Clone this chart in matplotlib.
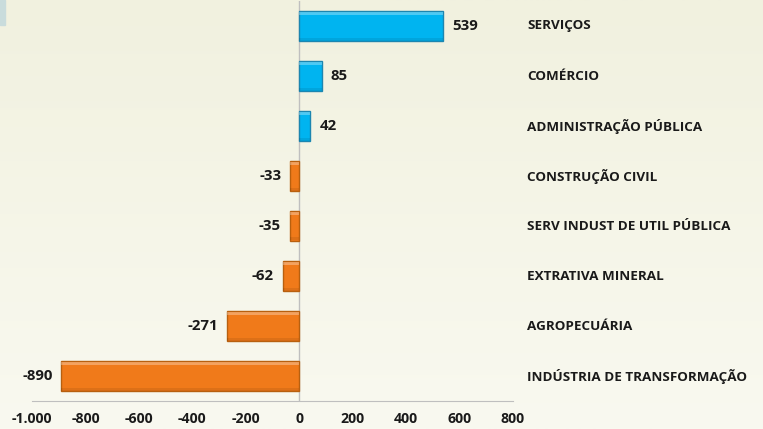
import numpy as np
import matplotlib
matplotlib.use("Agg")
import matplotlib.pyplot as plt
from matplotlib.patches import Rectangle

# dados (saldo de empregos por setor)
setores = ["SERVIÇOS", "COMÉRCIO", "ADMINISTRAÇÃO PÚBLICA", "CONSTRUÇÃO CIVIL",
           "SERV INDUST DE UTIL PÚBLICA", "EXTRATIVA MINERAL", "AGROPECUÁRIA",
           "INDÚSTRIA DE TRANSFORMAÇÃO"]
saldo = [539, 85, 42, -33, -35, -62, -271, -890]
xticks = [-1000, -800, -600, -400, -200, 0, 200, 400, 600, 800]
xtick_labels = ["-1.000", "-800", "-600", "-400", "-200", "0", "200", "400", "600", "800"]

plt.rcParams['font.family'] = ['Open Sans', 'DejaVu Sans']
W, H = 763, 429
fig = plt.figure(figsize=(W / 100, H / 100), dpi=100)

# fundo em degrade
bg = fig.add_axes([0, 0, 1, 1], zorder=-10)
grad = np.linspace(0, 1, 256).reshape(-1, 1)
c_top = np.array([0xF1, 0xF1, 0xDF]) / 255
c_bot = np.array([0xF9, 0xF9, 0xF0]) / 255
img = c_top[None, None, :] * (1 - grad[:, :, None]) + c_bot[None, None, :] * grad[:, :, None]
bg.imshow(img, aspect='auto', extent=[0, 1, 0, 1])
bg.axis('off')
fig.patches.append(Rectangle((0, 1 - 25 / H), 5 / W, 25 / H, transform=fig.transFigure,
                             color='#C9DCDC', zorder=5))

ax = fig.add_axes([32 / W, (H - 401) / H, 481 / W, 400 / H])
ax.patch.set_alpha(0)

y = np.arange(len(setores))
cores = ['#00B4F0' if v > 0 else '#F07A1A' for v in saldo]
bordas = ['#1C86B0' if v > 0 else '#B8600F' for v in saldo]
ax.barh(y, saldo, height=0.6, color=cores, edgecolor=bordas, linewidth=1.0, zorder=3)
# efeito chanfrado discreto
ax.barh(y - 0.26, saldo, height=0.06, color='white', alpha=0.3, linewidth=0, zorder=4)
ax.barh(y + 0.26, saldo, height=0.06, color='black', alpha=0.08, linewidth=0, zorder=4)

for yi, v in zip(y, saldo):
    if v > 0:
        ax.text(v + 33, yi, str(v), ha='left', va='center', fontsize=10.8, fontweight='bold', color='#1a1a1a')
    else:
        ax.text(v - 33, yi, str(v), ha='right', va='center', fontsize=10.8, fontweight='bold', color='#1a1a1a')

lx = 1 + (527 - 513) / 481
for yi, s in zip(y, setores):
    ax.text(lx, yi, s, transform=ax.get_yaxis_transform(), ha='left', va='center',
            fontsize=9.7, fontweight='bold', color='#1a1a1a')

ax.set_xlim(-1000, 800)
ax.set_ylim(len(setores) - 0.5, -0.5)
ax.set_xticks(xticks)
ax.set_xticklabels(xtick_labels, fontsize=10.2, fontweight='bold', color='#1a1a1a')
ax.tick_params(axis='x', length=0, pad=8)
ax.set_yticks([])
for s in ['top', 'right', 'left']:
    ax.spines[s].set_visible(False)
ax.spines['bottom'].set_color('#BFBFBF')
ax.axvline(0, color='#BFBFBF', linewidth=1.0, zorder=2)

fig.savefig('out.png', dpi=100)
